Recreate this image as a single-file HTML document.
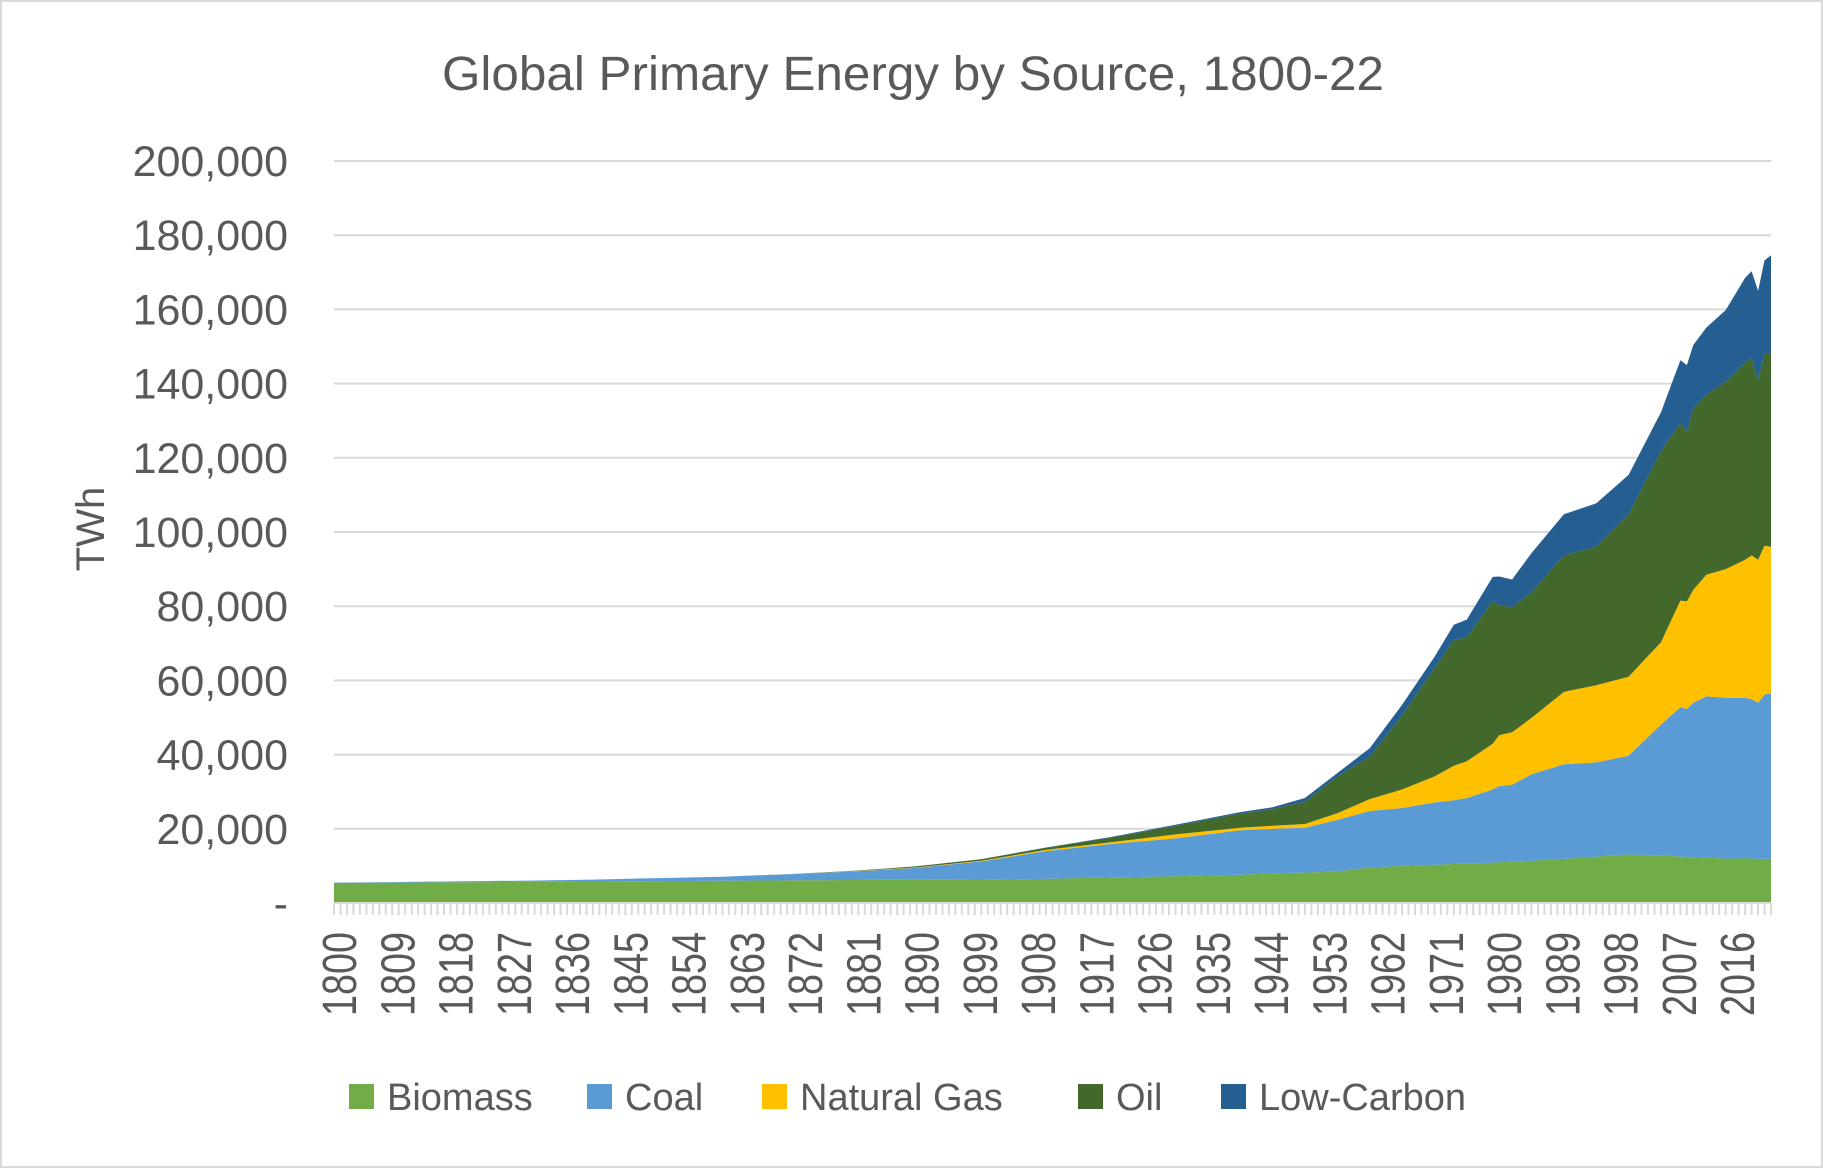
<!DOCTYPE html>
<html><head><meta charset="utf-8"><style>
html,body{margin:0;padding:0;background:#fff;}
svg{display:block;font-family:"Liberation Sans",sans-serif;}
</style></head><body>
<svg id="chart" width="1823" height="1168" viewBox="0 0 1823 1168" xmlns="http://www.w3.org/2000/svg">
<rect x="1" y="1" width="1821" height="1166" fill="#fff" stroke="#d9d9d9" stroke-width="2"/>
<text x="913" y="90" font-size="48" fill="#595959" text-anchor="middle" textLength="942" lengthAdjust="spacingAndGlyphs">Global Primary Energy by Source, 1800-22</text>
<text transform="translate(104,529) rotate(-90)" font-size="40" fill="#595959" text-anchor="middle">TWh</text>
<g id="grid"></g><g id="areas"></g><g id="xaxis"></g><g id="yaxis"></g>
<g id="legend"></g>
</svg>
<script>
const years=[1800,1810,1820,1830,1840,1850,1860,1870,1880,1890,1900,1910,1920,1930,1940,1945,1950,1955,1960,1965,1970,1973,1975,1979,1980,1982,1985,1990,1995,2000,2005,2008,2009,2010,2012,2015,2018,2019,2020,2021,2022];
const biomass=[5.4,5.5,5.6,5.7,5.8,5.9,6.0,6.1,6.2,6.3,6.2,6.5,6.9,7.2,7.6,8.0,8.2,8.5,9.6,10.0,10.3,10.5,10.6,10.9,11.0,11.1,11.4,11.9,12.5,13.1,12.8,12.5,12.4,12.3,12.2,12.0,12.0,12.0,11.9,11.9,11.9];
const coal=[0.1,0.15,0.25,0.35,0.5,0.8,1.1,1.6,2.3,3.2,5.0,7.5,9.0,10.2,12.0,12.0,12.1,13.9,15.2,15.6,16.8,17.2,17.7,19.7,20.5,20.8,23.3,25.5,25.4,26.6,35.3,40.3,39.9,41.7,43.5,43.3,43.3,43.0,42.1,44.3,44.6];
const gas=[0,0,0,0,0,0,0,0,0.05,0.1,0.2,0.3,0.5,1.1,0.7,0.8,1.0,1.8,3.2,5.0,7.0,9.3,9.9,12.3,13.7,14.1,15.2,19.5,20.8,21.3,22.2,28.7,29.0,30.4,32.8,34.7,37.2,38.7,38.5,40.1,39.5];
const oil=[0,0,0,0,0,0,0,0.05,0.1,0.3,0.4,0.6,1.2,2.3,3.8,4.5,6.0,9.9,11.4,19.9,29.2,33.9,33.4,38.5,35.1,33.7,33.9,36.8,37.3,43.8,51.5,47.9,45.7,49.0,48.5,50.5,53.2,53.2,48.5,51.7,52.0];
const lowCarbon=[0,0,0,0,0,0,0,0,0,0,0.02,0.05,0.2,0.3,0.4,0.5,1.0,0.9,2.3,2.9,3.0,4.1,4.8,6.5,7.7,7.5,10.5,11.1,11.7,10.6,10.5,16.9,18.0,17.0,18.1,19.3,22.8,23.4,24.0,25.2,26.6];
const seriesNames=["Biomass","Coal","Natural Gas","Oil","Low-Carbon"];
const yTicks=[0,20000,40000,60000,80000,100000,120000,140000,160000,180000,200000];
const yTickLabels=["-","20,000","40,000","60,000","80,000","100,000","120,000","140,000","160,000","180,000","200,000"];
const xLabelYears=[1800,1809,1818,1827,1836,1845,1854,1863,1872,1881,1890,1899,1908,1917,1926,1935,1944,1953,1962,1971,1980,1989,1998,2007,2016];

const NS="http://www.w3.org/2000/svg";
const colors=["#70ad47","#5b9bd5","#ffc000","#43682b","#255e91"];
const X0=334,X1=1771,Y0=903,Y1=161;
const xs=y=>X0+(y-1800)/(2022-1800)*(X1-X0);
const ys=v=>Y0-v/200000*(Y0-Y1);
function mk(tag,attrs,parent){const e=document.createElementNS(NS,tag);for(const k in attrs)e.setAttribute(k,attrs[k]);parent.appendChild(e);return e;}
const grid=document.getElementById('grid'),yaxis=document.getElementById('yaxis');
yTicks.forEach((t,i)=>{
  if(i>0){const l=mk('line',{x1:X0,x2:X1,y1:ys(t),y2:ys(t),stroke:'#d9d9d9','stroke-width':2},grid);
  
  }
  const tx=mk('text',{x:288,y:ys(t)+15,'font-size':43,fill:'#595959','text-anchor':'end'},yaxis);
  tx.textContent=yTickLabels[i];
  
  
});
const series=[biomass,coal,gas,oil,lowCarbon];
const areas=document.getElementById('areas');
const cum=years.map(()=>0);
series.forEach((s,si)=>{
  const lower=cum.slice();
  s.forEach((v,i)=>cum[i]+=v*1000);
  let d='M'+years.map((y,i)=>xs(y).toFixed(1)+','+ys(cum[i]).toFixed(1)).join('L');
  for(let i=years.length-1;i>=0;i--)d+='L'+xs(years[i]).toFixed(1)+','+ys(lower[i]).toFixed(1);
  d+='Z';
  const p=mk('path',{d:d,fill:colors[si]},areas);
  
  
});
const xaxis=document.getElementById('xaxis');
for(let y=1800;y<=2022;y++){
  const t=mk('line',{x1:xs(y),x2:xs(y),y1:Y0,y2:Y0+12,stroke:'#d9d9d9','stroke-width':2},xaxis);
  
  
}
const ax=mk('line',{x1:X0,x2:X1,y1:Y0,y2:Y0,stroke:'#d9d9d9','stroke-width':2},xaxis);


xLabelYears.forEach(y=>{
  const tx=mk('text',{transform:`translate(${xs(y)+22},932) rotate(-90)`,'font-size':48,fill:'#595959','text-anchor':'end',textLength:84,lengthAdjust:'spacingAndGlyphs'},xaxis);
  tx.textContent=y;
  
  
});
const legend=document.getElementById('legend');
const legX=[349,587,762,1078,1221];
seriesNames.forEach((n,i)=>{
  const g=mk('g',{},legend);
  
  
  mk('rect',{x:legX[i],y:1084,width:25,height:25,fill:colors[i]},g);
  const tx=mk('text',{x:legX[i]+38,y:1110,'font-size':38,fill:'#595959'},g);
  tx.textContent=n;
});
</script>
</body></html>
